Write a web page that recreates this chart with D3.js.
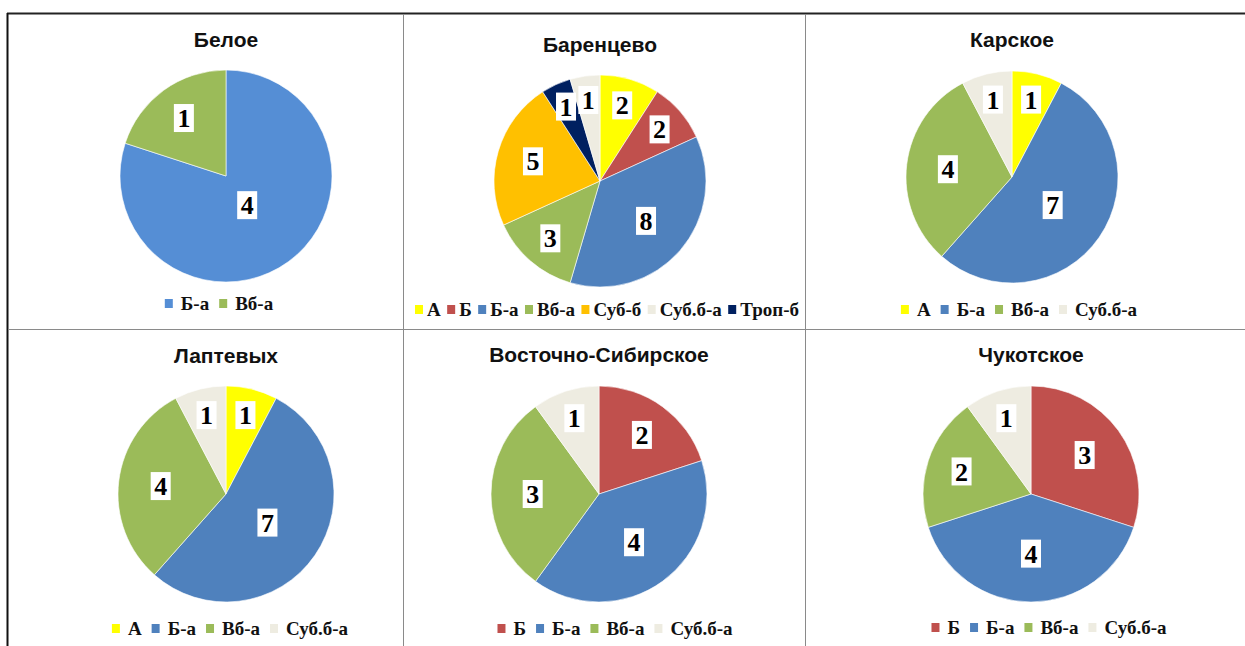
<!DOCTYPE html>
<html><head><meta charset="utf-8">
<script src="https://cdn.jsdelivr.net/npm/d3@7"></script>
<style>body{margin:0;background:#fff}</style>
</head><body>
<svg id="c" width="1245" height="646"></svg>
<script>
// ---- data ----
const seaNames = ["Белое","Баренцево","Карское","Лаптевых","Восточно-Сибирское","Чукотское"];
const beloeCats = ["Б-а","Вб-а"];
const beloeVals = [4,1];
const barentsCats = ["А","Б","Б-а","Вб-а","Суб-б","Троп-б","Суб.б-а"]; // clockwise slice order
const barentsVals = [2,2,8,3,5,1,1];
const barentsLegend = ["А","Б","Б-а","Вб-а","Суб-б","Суб.б-а","Троп-б"];
const karaCats = ["А","Б-а","Вб-а","Суб.б-а"];
const karaVals = [1,7,4,1];
const laptevCats = ["А","Б-а","Вб-а","Суб.б-а"];
const laptevVals = [1,7,4,1];
const eSibCats = ["Б","Б-а","Вб-а","Суб.б-а"];
const eSibVals = [2,4,3,1];
const chukCats = ["Б","Б-а","Вб-а","Суб.б-а"];
const chukVals = [3,4,2,1];

const colorOf = {"А":"#FFFF00","Б":"#C0504D","Б-а":"#4F81BD","Вб-а":"#9BBB59","Суб-б":"#FFC000","Суб.б-а":"#EEECE1","Троп-б":"#002060"};

const svg = d3.select("#c");

// table lines
svg.append("line").attr("x1",7).attr("x2",1245).attr("y1",13.5).attr("y2",13.5).attr("stroke","#222").attr("stroke-width",2);
svg.append("line").attr("x1",7.5).attr("x2",7.5).attr("y1",13).attr("y2",646).attr("stroke","#111").attr("stroke-width",2);
[403.5,805.5].forEach(x=>svg.append("line").attr("x1",x).attr("x2",x).attr("y1",14).attr("y2",646).attr("stroke","#8a8a8a").attr("stroke-width",1));
svg.append("line").attr("x1",8).attr("x2",1245).attr("y1",329.5).attr("y2",329.5).attr("stroke","#8a8a8a").attr("stroke-width",1);

const panels = [
  {name:seaNames[0], cats:beloeCats, vals:beloeVals, legend:beloeCats, cx:226, cy:176, r:106, ty:47, ly:310, maxW:380, legendCx:219, colors:{"Б-а":"#558ED5"}},
  {name:seaNames[1], cats:barentsCats, vals:barentsVals, legend:barentsLegend, cx:600, cy:181, r:106, ty:52, ly:316, maxW:384, legendCx:607},
  {name:seaNames[2], cats:karaCats, vals:karaVals, legend:karaCats, cx:1012, cy:177, r:106, ty:47, ly:316, maxW:380, legendCx:1019},
  {name:seaNames[3], cats:laptevCats, vals:laptevVals, legend:laptevCats, cx:226, cy:494, r:108, ty:363, ly:635, maxW:380, legendCx:230},
  {name:seaNames[4], cats:eSibCats, vals:eSibVals, legend:eSibCats, cx:599, cy:494, r:108, ty:362, ly:635, maxW:380, legendCx:615},
  {name:seaNames[5], cats:chukCats, vals:chukVals, legend:chukCats, cx:1031, cy:494, r:108, ty:362, ly:634, maxW:380, legendCx:1049}
];

panels.forEach(p=>{
  const g = svg.append("g");
  const col = c => (p.colors && p.colors[c]) || colorOf[c];
  g.append("text").attr("x",p.cx).attr("y",p.ty).attr("text-anchor","middle")
    .attr("font-family","Liberation Sans, Arial, sans-serif").attr("font-weight","bold").attr("font-size",21)
    .attr("fill","#111").text(p.name);

  const data = p.cats.map((c,i)=>({cat:c, v:p.vals[i]}));
  const total = d3.sum(p.vals);
  const pie = d3.pie().value(d=>d.v).sort(null);
  const arcs = pie(data);
  const arc = d3.arc().innerRadius(0).outerRadius(p.r);
  const pg = g.append("g").attr("transform",`translate(${p.cx},${p.cy})`);
  pg.selectAll("path").data(arcs).join("path").attr("d",arc).attr("fill",d=>col(d.data.cat))
    .attr("stroke","#fff").attr("stroke-width",0.6);

  // labels
  arcs.forEach(a=>{
    const f = a.data.v/total;
    const lr = p.r*Math.max(0.34, 0.8-0.62*f);
    const [x,y] = d3.arc().innerRadius(lr).outerRadius(lr).centroid(a);
    const lg = pg.append("g").attr("transform",`translate(${x},${y})`);
    const t = lg.append("text").attr("text-anchor","middle").attr("dy","0.35em")
      .attr("font-family","Liberation Serif, Times New Roman, serif").attr("font-weight","bold").attr("font-size",26)
      .attr("fill","#000").text(a.data.v);
    const w = t.node().getComputedTextLength();
    lg.insert("rect","text").attr("x",-w/2-3.5).attr("y",-14).attr("width",w+7).attr("height",28).attr("fill","#fff");
  });

  // legend
  const lgG = g.append("g");
  const items = p.legend.map(c=>{
    const it = lgG.append("g");
    it.append("rect").attr("width",8).attr("height",9).attr("y",-11).attr("fill",col(c));
    const t = it.append("text").attr("font-family","Liberation Serif, Times New Roman, serif").attr("font-weight","bold")
      .attr("font-size",19).attr("fill","#111").text(c);
    return {it, t, w: t.node().getComputedTextLength()};
  });
  let inner = 8, between = 10;
  const natural = () => d3.sum(items, d=>8+inner+d.w) + between*(items.length-1);
  if (natural() > p.maxW) { inner = 4; between = Math.max(3,(p.maxW - d3.sum(items,d=>12+d.w))/(items.length-1)); }
  const W = natural();
  let x = (p.legendCx || p.cx) - W/2;
  items.forEach(d=>{
    d.it.attr("transform",`translate(${x},${p.ly})`);
    d.t.attr("x",8+inner);
    x += 8+inner+d.w+between;
  });
});
</script>
</body></html>
